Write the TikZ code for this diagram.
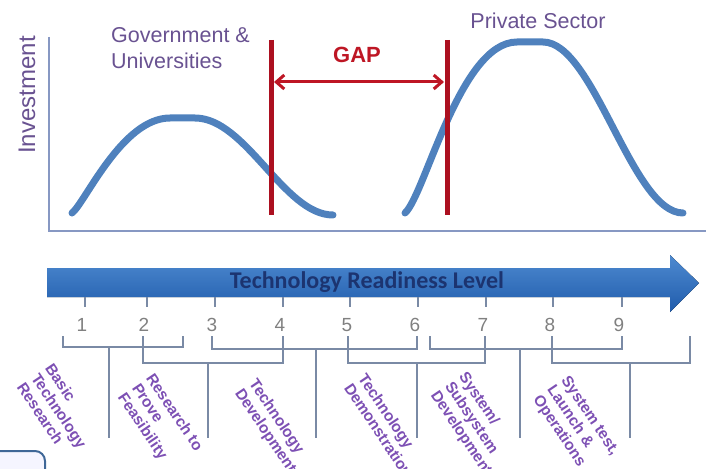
\documentclass[tikz,border=0pt]{standalone}
\usepackage{fontspec}
\setmainfont{Liberation Sans}
\newfontfamily\trlfont{Carlito}
\usetikzlibrary{arrows.meta}
\usetikzlibrary{positioning}

\definecolor{curveblue}{RGB}{79,129,189}
\definecolor{axisblue}{RGB}{135,152,195}
\definecolor{gapred}{RGB}{172,16,32}
\definecolor{textred}{RGB}{190,22,36}
\definecolor{labelpurple}{RGB}{105,82,145}
\definecolor{phasepurple}{RGB}{125,80,180}
\definecolor{trltop}{RGB}{78,138,208}
\definecolor{trlbottom}{RGB}{32,92,172}
\definecolor{trlnavy}{RGB}{28,52,112}
\definecolor{bracketgray}{RGB}{122,138,165}

\begin{document}
\begin{tikzpicture}[x=1pt,y=-1pt,
    axis/.style={axisblue, line width=2.5pt},
    bump/.style={curveblue, line width=7pt, line cap=round},
    gapline/.style={gapred, line width=5pt},
    gaparrow/.style={textred, line width=3pt, {Straight Barb[length=8pt,width=14pt]}-{Straight Barb[length=8pt,width=14pt]}},
    toplabel/.style={labelpurple, font=\fontsize{21.5}{26}\selectfont, inner sep=0pt},
    tick/.style={bracketgray, line width=2pt},
    level/.style={gray, font=\fontsize{19}{22}\selectfont, inner sep=0pt},
    bracket/.style={bracketgray, line width=2pt},
    phase/.style={phasepurple, font=\fontsize{15.5}{17}\selectfont\bfseries, align=left,
      anchor=north west, rotate=-56, inner sep=0pt}]
  \useasboundingbox (0,0) rectangle (706,468);

  % axes
  \draw[axis] (49,37) -- (49,231) -- (706,231);
  \node[labelpurple, font=\fontsize{24}{28}\selectfont, rotate=90] (invest) at (27,95) {Investment};

  % funding curves
  \draw[bump] (72,213) .. controls (85,203) and (122,118) .. (170,118) -- (195,118)
    .. controls (246,118) and (284,215) .. (333,215);
  \draw[bump] (405,213) .. controls (425,195) and (460,42) .. (517,42) -- (543,42)
    .. controls (594,42) and (632,213) .. (683,213);

  \node[toplabel, align=left, anchor=north west] (gov) at (111,27) {Government \&\\Universities};
  \node[toplabel] (private) at (538,21) {Private Sector};

  % the gap
  \coordinate (leftTop) at (271,40);
  \coordinate (leftBot) at (271,215);
  \coordinate (rightTop) at (447,40);
  \coordinate (rightBot) at (447,215);
  \draw[gapline] (leftTop) -- (leftBot);
  \draw[gapline] (rightTop) -- (rightBot);
  \coordinate (gapL) at (274,82);
  \coordinate (gapR) at (444,82);
  \draw[gaparrow] (gapL) -- (gapR);
  \node[textred, font=\fontsize{22}{26}\selectfont\bfseries] (gap) at (357,55) {GAP};

  % TRL arrow
  \fill[top color=trltop, bottom color=trlbottom]
    (47,268) -- (670,268) -- (670,255) -- (699,283) -- (670,312) -- (670,297) -- (47,297) -- cycle;
  \node[trlnavy, font=\fontsize{24}{28}\selectfont\trlfont\bfseries] (trl) at (367,282) {Technology Readiness Level};

  \foreach \n/\x in {1/85,2/147,3/215,4/283,5/350,6/418,7/486,8/553,9/622} {
    \draw[tick] (\x,297) -- (\x,307);
    \node[level] (lvl\n) at (\x-3,325) {\n};
  }

  % brackets: left, right, bar, stem
  \foreach \l/\r/\y/\s in {63/183/347/109, 143/283/363/208, 212/417/349/316,
      348/485/363/417, 430/622/349/520, 552/690/363/630} {
    \draw[bracket] (\l,336) |- (\r,\y) -- (\r,336);
    \draw[bracket] (\s,\y) -- (\s,438);
  }

  \node[phase] (basic) at (54,362) {Basic\\Technology\\Research};
  \node[phase] (feasible) at (155,372) {Research to\\Prove\\Feasibility};
  \node[phase] (develop) at (258,377) {Technology\\Development};
  \node[phase] (demo) at (367,372) {Technology\\Demonstration};
  \node[phase] (subsys) at (468,370) {System/\\Subsystem\\Development};
  \node[phase] (launch) at (570,374) {System test,\\Launch \&\\Operations};

  % corner of the box below
  \filldraw[fill=blue!4, draw=curveblue!80!black, line width=2pt, rounded corners=10pt]
    (-20,451) rectangle (45,500);
\end{tikzpicture}
\end{document}
